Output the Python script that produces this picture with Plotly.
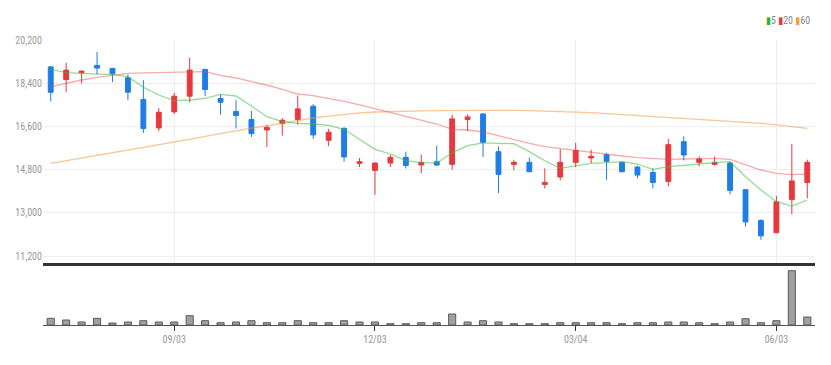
import plotly.graph_objects as go

dates = [
    "2018-07-09", "2018-07-16", "2018-07-23", "2018-07-30", "2018-08-06", "2018-08-13",
    "2018-08-20", "2018-08-27", "2018-09-03", "2018-09-10", "2018-09-17", "2018-09-24",
    "2018-10-01", "2018-10-08", "2018-10-15", "2018-10-22", "2018-10-29", "2018-11-05",
    "2018-11-12", "2018-11-19", "2018-11-26", "2018-12-03", "2018-12-10", "2018-12-17",
    "2018-12-24", "2018-12-31", "2019-01-07", "2019-01-14", "2019-01-21", "2019-01-28",
    "2019-02-04", "2019-02-11", "2019-02-18", "2019-02-25", "2019-03-04", "2019-03-11",
    "2019-03-18", "2019-03-25", "2019-04-01", "2019-04-08", "2019-04-15", "2019-04-22",
    "2019-04-29", "2019-05-06", "2019-05-13", "2019-05-20", "2019-05-27", "2019-06-03",
    "2019-06-10", "2019-06-17",
]

open_ = [19080, 18556, 18835, 19141, 19016, 18626, 17720, 16536, 17205, 17860,
         18974, 17762, 17219, 16885, 16453, 16717, 16885, 17442, 16021, 16522,
         15060, 14767, 15074, 15311, 14990, 15129, 15018, 16885, 17121, 15547,
         15018, 15102, 14182, 14489, 15102, 15283, 15422, 15102, 14907, 14684,
         14307, 15965, 15102, 15018, 15074, 13960, 12678, 12170, 13550, 14266]
close = [18020, 18946, 18904, 19030, 18793, 18027, 16509, 17191, 17860, 18946,
         18140, 17609, 17052, 16300, 16564, 16857, 17330, 16244, 16355, 15325,
         15130, 15074, 15311, 14976, 15101, 14990, 16913, 16996, 15937, 14600,
         15102, 14712, 14266, 15102, 15600, 15353, 15143, 14712, 14572, 14266,
         15840, 15408, 15241, 15102, 13933, 12622, 12039, 13460, 14330, 15102]
high = [19117, 19253, 18920, 19699, 19044, 18765, 18528, 17358, 18000, 19462,
        19000, 17929, 17693, 17247, 16675, 16940, 17888, 17525, 16495, 16550,
        15283, 15100, 15422, 15547, 15422, 15798, 17080, 17094, 17130, 15770,
        15213, 15300, 14851, 15659, 15910, 15631, 15500, 15110, 14960, 14851,
        16077, 16190, 15353, 15353, 15130, 13990, 12733, 13705, 15875, 15213]
low = [17640, 18027, 18389, 18765, 18445, 17693, 16327, 16397, 17121, 17609,
       17860, 17081, 16509, 16160, 15742, 16216, 16675, 16077, 15770, 15130,
       14907, 13750, 14907, 14850, 14656, 14962, 14795, 16397, 15325, 13820,
       14767, 14690, 14015, 14350, 14907, 15074, 14377, 14690, 14433, 14015,
       14098, 15185, 14934, 14962, 13764, 12427, 11870, 12148, 12940, 13608]

ma5 = [18979, 18840, 18812, 18783, 18755, 18671, 18229, 17908, 17671, 17700,
       17770, 17938, 17867, 17450, 17004, 16796, 16729, 16700, 16646, 16479,
       16062, 15646, 15450, 15171, 15087, 15075, 15500, 15800, 15910, 15900,
       15880, 15550, 15170, 14850, 14950, 15062, 15087, 15129, 15033, 14812,
       14921, 14992, 15033, 15087, 15129, 14504, 13950, 13463, 13283, 13533]
ma20 = [18255, 18396, 18533, 18645, 18742, 18812, 18830, 18840, 18850, 18860,
        18880, 18729, 18617, 18463, 18325, 18146, 17950, 17880, 17770, 17646,
        17492, 17354, 17188, 17021, 16867, 16700, 16479, 16450, 16367, 16200,
        16062, 15896, 15754, 15671, 15587, 15504, 15421, 15367, 15296, 15254,
        15229, 15242, 15271, 15271, 15229, 14992, 14783, 14645, 14588, 14617]
ma60 = [15062, 15170, 15280, 15390, 15500, 15610, 15720, 15830, 15950, 16060,
        16180, 16300, 16420, 16530, 16620, 16740, 16850, 16950, 17030, 17110,
        17160, 17200, 17225, 17240, 17250, 17260, 17265, 17270, 17270, 17270,
        17265, 17255, 17240, 17220, 17200, 17170, 17130, 17090, 17050, 17010,
        16970, 16940, 16910, 16880, 16840, 16790, 16730, 16660, 16590, 16520]

volume = [670, 500, 300, 670, 200, 300, 430, 300, 300, 930,
          430, 230, 300, 430, 230, 230, 430, 230, 230, 430,
          300, 300, 130, 130, 230, 230, 1100, 300, 430, 300,
          130, 130, 130, 230, 230, 230, 230, 130, 230, 230,
          300, 300, 230, 130, 300, 630, 230, 430, 5430, 800]

y_ticks = [11200, 13000, 14800, 16600, 18400, 20200]
x_tick_dates = ["2018-09-03", "2018-12-03", "2019-03-04", "2019-06-03"]
x_tick_text = ["09/03", "12/03", "03/04", "06/03"]

FONT = "Liberation Sans Narrow, Roboto Condensed, DejaVu Sans Condensed, sans-serif"
RED = "#e8383d"
BLUE = "#1f7de6"
WEEK_MS = 7 * 24 * 3600 * 1000

fig = go.Figure()
fig.add_trace(go.Candlestick(
    x=dates, open=open_, high=high, low=low, close=close,
    increasing=dict(line=dict(color=RED, width=1), fillcolor=RED),
    decreasing=dict(line=dict(color=BLUE, width=1), fillcolor=BLUE),
    whiskerwidth=0, xaxis="x", yaxis="y", showlegend=False, name="",
))
fig.add_trace(go.Scatter(x=dates, y=ma60, mode="lines", xaxis="x", yaxis="y",
                         line=dict(color="rgba(245,150,60,0.55)", width=1.3), showlegend=False))
fig.add_trace(go.Scatter(x=dates, y=ma20, mode="lines", xaxis="x", yaxis="y",
                         line=dict(color="rgba(238,70,70,0.45)", width=1.3), showlegend=False))
fig.add_trace(go.Scatter(x=dates, y=ma5, mode="lines", xaxis="x", yaxis="y",
                         line=dict(color="rgba(60,190,60,0.55)", width=1.3), showlegend=False))
fig.add_trace(go.Bar(x=dates, y=volume, xaxis="x2", yaxis="y2", width=0.46 * WEEK_MS,
                     marker=dict(color="#a0a0a0", line=dict(color="#5a5a5a", width=1)),
                     showlegend=False))

x_range = ["2018-07-05 12:00", "2019-06-20 12:00"]

fig.update_layout(
    width=815, height=349,
    margin=dict(l=35, r=8, t=32, b=32),
    paper_bgcolor="white", plot_bgcolor="white",
    font=dict(family=FONT, size=10, color="#999999"),
    boxgap=0.55,
    xaxis=dict(domain=[0, 1], anchor="y", range=x_range, type="date", automargin=False,
               rangeslider=dict(visible=False),
               tickvals=x_tick_dates, ticktext=x_tick_text, showticklabels=False,
               showgrid=True, gridcolor="#eeeeee", gridwidth=1,
               showline=True, linecolor="#333333", linewidth=2.5, ticks="",
               zeroline=False),
    yaxis=dict(domain=[0.2175, 1], anchor="x", range=[10908, 20200], automargin=False,
               tickvals=y_ticks, tickformat=",d", showgrid=True, gridcolor="#eeeeee",
               gridwidth=1, zeroline=False, showline=False, ticks="",
               tickfont=dict(size=10, color="#999999")),
    xaxis2=dict(domain=[0, 1], anchor="y2", range=x_range, type="date", matches="x",
                automargin=False,
                tickvals=x_tick_dates, ticktext=x_tick_text, showgrid=False,
                showline=True, linecolor="#555555", linewidth=1,
                ticks="outside", ticklen=5, tickcolor="#333333",
                tickfont=dict(size=10, color="#999999"), zeroline=False),
    yaxis2=dict(domain=[0, 0.2175], anchor="x2", range=[0, 6200], automargin=False,
                showgrid=False, showticklabels=False, zeroline=False, ticks=""),
    annotations=[dict(
        xref="paper", yref="paper", x=0.996, y=1.067, xanchor="right", yanchor="middle",
        showarrow=False, font=dict(family=FONT, size=10, color="#888888"),
        text=("<span style='color:#2cb52c'>▮</span>5 "
              "<span style='color:#ee3333'>▮</span>20 "
              "<span style='color:#f39a3c'>▮</span>60"),
    )],
)

fig.write_html("out.html")
